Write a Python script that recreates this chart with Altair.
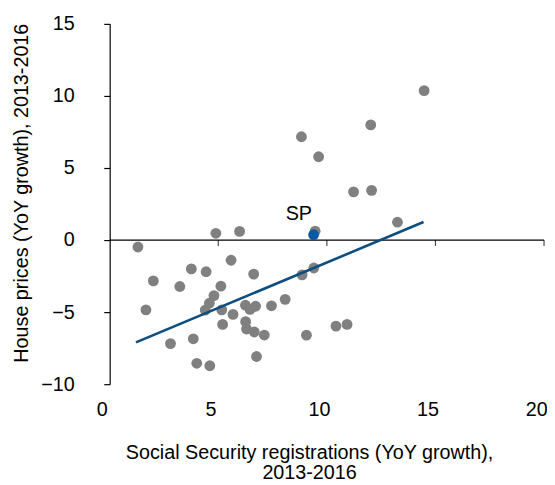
import altair as alt
import pandas as pd

FONT = "Liberation Sans"

# Gray scatter points (Social Security registrations growth, House price growth)
gray_x = [14.48, 12.02, 8.83, 9.62, 11.23, 12.06, 13.25, 4.89, 5.98, 9.46,
          1.30, 5.59, 3.76, 4.44, 6.63, 9.40, 8.86, 2.01, 3.23, 5.12,
          4.80, 8.08, 4.59, 1.67, 4.40, 5.16, 6.25, 6.46, 6.72, 7.45,
          5.68, 5.20, 6.26, 6.30, 6.66, 7.12, 9.06, 10.42, 10.93, 2.80,
          3.85, 4.01, 4.61, 6.76]
gray_y = [10.37, 7.99, 7.17, 5.78, 3.34, 3.45, 1.24, 0.47, 0.60, 0.62,
          -0.48, -1.40, -2.00, -2.20, -2.36, -1.94, -2.41, -2.83, -3.22, -3.20,
          -3.85, -4.11, -4.38, -4.84, -4.86, -4.84, -4.52, -4.81, -4.59, -4.56,
          -5.16, -5.85, -5.66, -6.17, -6.38, -6.59, -6.60, -5.97, -5.85, -7.18,
          -6.85, -8.55, -8.72, -8.08]

# Highlighted region
sp_x = [9.39]
sp_y = [0.37]
sp_label = ["SP"]

# Linear trend line end points
trend_x = [1.21, 14.45]
trend_y = [-7.10, 1.25]

# Horizontal axis line at y = 0
zero_x = [0, 20]
zero_y = [0, 0]

x_ticks = [0, 5, 10, 15, 20]
y_ticks = [-10, -5, 0, 5, 10, 15]
x_inner_ticks = [5, 10, 15, 20]

gray_df = pd.DataFrame({"x": gray_x, "y": gray_y})
sp_df = pd.DataFrame({"x": sp_x, "y": sp_y, "label": sp_label})
trend_df = pd.DataFrame({"x": trend_x, "y": trend_y})
zero_df = pd.DataFrame({"x": zero_x, "y": zero_y})
tick_df = pd.DataFrame({"x": x_inner_ticks, "y": [0] * len(x_inner_ticks)})

xscale = alt.Scale(domain=[0, 20], nice=False, zero=False)
yscale = alt.Scale(domain=[-10, 15], nice=False, zero=False)

x_axis = alt.Axis(
    values=x_ticks, orient="bottom", domain=False, ticks=False, tickSize=0,
    grid=False, labelPadding=16, labelOffset=-8, labelFontSize=20, labelFont=FONT,
    labelColor="black", labelFlush=False, labelOverlap=False,
    title=["Social Security registrations (YoY growth),", "2013-2016"],
    titleFont=FONT, titleFontSize=20, titleFontWeight="normal", titleColor="black",
    titleX=202, titleY=75, titleAlign="center", titleBaseline="alphabetic",
    titleLineHeight=21,
)
y_axis = alt.Axis(
    values=y_ticks, orient="left", domain=True, domainColor="black", domainWidth=1.2,
    ticks=True, tickSize=6, tickColor="black", tickWidth=1.2, grid=False,
    labelPadding=30, labelFontSize=20, labelFont=FONT, labelColor="black",
    labelFlush=False, labelOverlap=False,
    title="House prices (YoY growth), 2013-2016",
    titleFont=FONT, titleFontSize=20, titleFontWeight="normal", titleColor="black",
    titleX=-89, titleY=171, titleAngle=270, titleAlign="center", titleBaseline="middle",
)

X = alt.X("x:Q", scale=xscale, axis=x_axis)
Y = alt.Y("y:Q", scale=yscale, axis=y_axis)

zero_line = alt.Chart(zero_df).mark_line(color="black", strokeWidth=1.2).encode(x=X, y=Y)

zero_ticks = alt.Chart(tick_df).mark_tick(
    color="black", orient="vertical", size=6, thickness=1.2, yOffset=3
).encode(x=X, y=Y)

points = alt.Chart(gray_df).mark_circle(size=120, color="#808080", opacity=1).encode(x=X, y=Y)

trend = alt.Chart(trend_df).mark_line(color="#0d4e7e", strokeWidth=2.6).encode(x=X, y=Y)

sp_point = alt.Chart(sp_df).mark_circle(size=120, color="#0a5aa3", opacity=1).encode(x=X, y=Y)

sp_text = alt.Chart(sp_df).mark_text(
    font=FONT, fontSize=20, color="black", align="center", baseline="alphabetic",
    dx=-15, dy=-14.5,
).encode(x=X, y=Y, text="label:N")

chart = alt.layer(zero_line, zero_ticks, points, trend, sp_point, sp_text).properties(
    width=440, height=365,
    background="white",
    autosize=alt.AutoSizeParams(type="none"),
    padding={"left": 103, "top": 13, "right": 3, "bottom": 97},
).configure_view(stroke=None)

chart.save("out.html", embed_options={"renderer": "svg", "actions": False})
